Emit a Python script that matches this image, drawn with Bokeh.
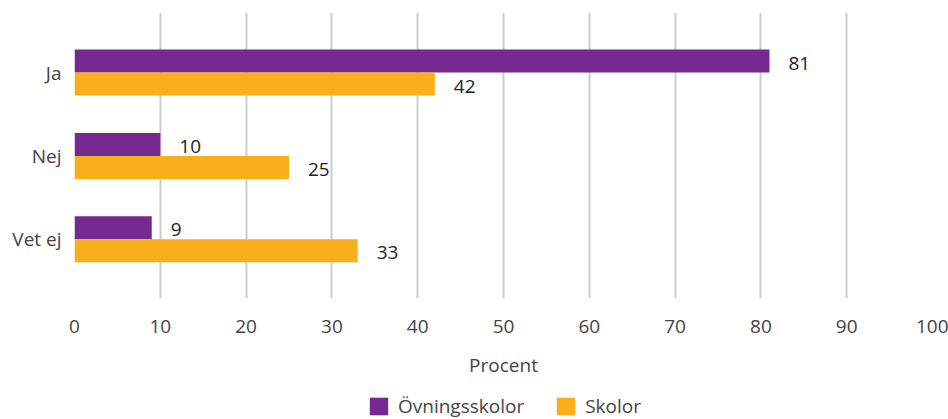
from bokeh.plotting import figure
from bokeh.models import ColumnDataSource, Legend, LegendItem, FixedTicker, Range1d
from bokeh.layouts import column
from bokeh.core.properties import value
from bokeh.embed import file_html
from bokeh.resources import INLINE

categories = ["Ja", "Nej", "Vet ej"]
ovningsskolor = [81, 10, 9]
skolor = [42, 25, 33]
series_names = ["Övningsskolor", "Skolor"]
x_ticks = [0, 10, 20, 30, 40, 50, 60, 70, 80, 90, 100]

PURPLE = "#76298E"
ORANGE = "#F9AE1B"
FONT = "Open Sans"
TXT = "#444444"

# numeric category positions: first category on top
ypos = [len(categories) - 1 - i for i in range(len(categories))]
off = 0.138
bh = 0.276

src_a = ColumnDataSource(dict(y=[y + off for y in ypos], v=ovningsskolor,
                              t=[str(v) for v in ovningsskolor]))
src_b = ColumnDataSource(dict(y=[y - off for y in ypos], v=skolor,
                              t=[str(v) for v in skolor]))

p = figure(width=948, height=384, output_backend="svg", toolbar_location=None,
           x_range=Range1d(0, 100), y_range=Range1d(-0.71, 2.72),
           min_border_left=74, min_border_right=16, min_border_top=12,
           min_border_bottom=86)
p.outline_line_color = None

p.hbar(y="y", left=0, right="v", height=bh, source=src_a,
       fill_color=PURPLE, line_color=None)
p.hbar(y="y", left=0, right="v", height=bh, source=src_b,
       fill_color=ORANGE, line_color=None)

for s in (src_a, src_b):
    p.text(x="v", y="y", text="t", source=s, x_offset=19, y_offset=2,
           text_font=value(FONT), text_font_size="19px", text_color="#1e1e1e",
           text_baseline="middle", text_align="left")

# x axis
p.xaxis.ticker = FixedTicker(ticks=x_ticks)
p.xaxis.axis_line_color = None
p.xaxis.major_tick_line_color = None
p.xaxis.major_tick_out = 0
p.xaxis.major_tick_in = 0
p.xaxis.minor_tick_line_color = None
p.xaxis.major_label_standoff = 21
p.xaxis.major_label_text_font = FONT
p.xaxis.major_label_text_font_size = "19px"
p.xaxis.major_label_text_color = TXT
p.xaxis.axis_label = "Procent"
p.xaxis.axis_label_text_font = FONT
p.xaxis.axis_label_text_font_size = "19px"
p.xaxis.axis_label_text_font_style = "normal"
p.xaxis.axis_label_text_color = TXT
p.xaxis.axis_label_standoff = 16

# y axis
p.yaxis.ticker = FixedTicker(ticks=ypos)
p.yaxis.major_label_overrides = {y: c for y, c in zip(ypos, categories)}
p.yaxis.axis_line_color = None
p.yaxis.major_tick_line_color = None
p.yaxis.major_tick_out = 0
p.yaxis.major_tick_in = 0
p.yaxis.minor_tick_line_color = None
p.yaxis.major_label_standoff = 13
p.yaxis.major_label_text_font = FONT
p.yaxis.major_label_text_font_size = "19px"
p.yaxis.major_label_text_color = TXT

p.xgrid.grid_line_color = "#cccccc"
p.xgrid.grid_line_width = 2
p.ygrid.grid_line_color = None

# legend strip below the chart (its frame is aligned with the chart's frame)
lg = figure(width=948, height=35, output_backend="svg", toolbar_location=None,
            x_range=Range1d(0, 100), y_range=Range1d(100, 101),
            x_axis_type=None, y_axis_type=None,
            min_border_left=74, min_border_right=16, min_border_top=0,
            min_border_bottom=0)
lg.outline_line_color = None
lg.xgrid.visible = False
lg.ygrid.visible = False
la = lg.hbar(y="y", left=0, right="v", height=bh, source=src_a,
             fill_color=PURPLE, line_color=None)
lb = lg.hbar(y="y", left=0, right="v", height=bh, source=src_b,
             fill_color=ORANGE, line_color=None)

legend = Legend(items=[LegendItem(label=series_names[0], renderers=[la]),
                       LegendItem(label=series_names[1], renderers=[lb])],
                orientation="horizontal", location=(293, 0),
                glyph_width=23, glyph_height=22, label_standoff=8, spacing=30,
                padding=0, margin=0, border_line_color=None,
                background_fill_alpha=0,
                label_text_font=FONT, label_text_font_size="19px",
                label_text_color=TXT)
lg.add_layout(legend, "center")

layout = column(p, lg, spacing=0)
open("out.html", "w").write(file_html(layout, INLINE))
